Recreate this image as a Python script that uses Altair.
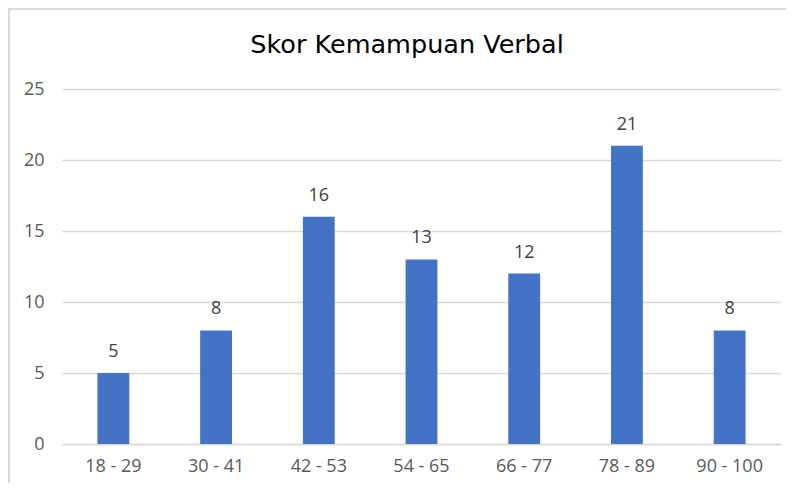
import altair as alt
import pandas as pd

categories = ["18 - 29", "30 - 41", "42 - 53", "54 - 65", "66 - 77", "78 - 89", "90 - 100"]
values = [5, 8, 16, 13, 12, 21, 8]
title_text = "Skor Kemampuan Verbal"

df = pd.DataFrame({"kelas": categories, "jumlah": values})

FONT = "Open Sans"
W, H = 719, 355
PL, PT, PR, PB = 54, 81, 5, 39

base = alt.Chart(df)

bars = base.mark_bar(color="#4472C4").encode(
    x=alt.X("kelas:N", sort=categories, title=None,
            scale=alt.Scale(paddingInner=0.69, paddingOuter=0.345),
            axis=alt.Axis(labelAngle=0, labelFontSize=18, labelColor="#595959",
                          labelFont=FONT, labelPadding=13, ticks=False,
                          domainColor="#d9d9d9", domainWidth=1.5)),
    y=alt.Y("jumlah:Q", title=None,
            scale=alt.Scale(domain=[0, 25], nice=False),
            axis=alt.Axis(values=[0, 5, 10, 15, 20, 25], labelFontSize=18,
                          labelColor="#595959", labelFont=FONT, labelPadding=18,
                          ticks=False, domain=False, gridColor="#d9d9d9",
                          gridWidth=1.5)),
)

labels = base.mark_text(baseline="middle", dy=-21, fontSize=18, color="#404040", font=FONT).encode(
    x=alt.X("kelas:N", sort=categories),
    y="jumlah:Q",
    text="jumlah:Q",
)

title = alt.Chart(pd.DataFrame({"t": [title_text]})).mark_text(
    fontSize=25.5, color="#000000", font="DejaVu Sans", baseline="middle", align="center"
).encode(x=alt.value(345), y=alt.value(-44), text="t:N")

border_left = alt.Chart(pd.DataFrame({"a": [0]})).mark_rule(color="#d9d9d9", strokeWidth=2).encode(
    x=alt.value(-PL + 1), y=alt.value(-PT), y2=alt.value(H + PB)
)
border_top = alt.Chart(pd.DataFrame({"a": [0]})).mark_rule(color="#d9d9d9", strokeWidth=2).encode(
    x=alt.value(-PL), x2=alt.value(W + PR), y=alt.value(-PT + 1)
)

chart = alt.layer(bars, labels, title, border_left, border_top).properties(
    width=W, height=H,
    autosize=alt.AutoSizeParams(type="none"),
    padding={"left": PL, "top": PT, "right": PR, "bottom": PB},
).configure(background="white").configure_view(stroke=None)

chart.save("out.html", embed_options={"renderer": "svg", "actions": False})
